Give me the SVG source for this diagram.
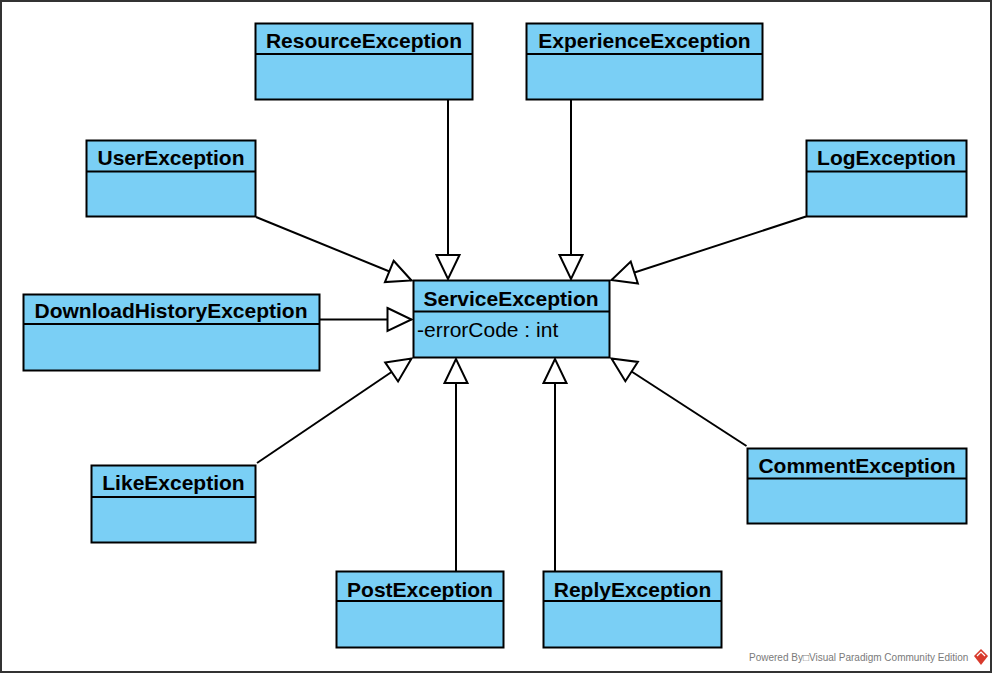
<svg xmlns="http://www.w3.org/2000/svg" width="993" height="674" viewBox="0 0 993 674">
<style>
.box{fill:#7acff5;stroke:#000;stroke-width:2}
.div{stroke:#000;stroke-width:2}
.t{font-family:"Liberation Sans",Arial,sans-serif;font-size:21px;font-weight:bold;fill:#000;text-anchor:middle}
.a{font-family:"Liberation Sans",Arial,sans-serif;font-size:21px;fill:#000}
.c{stroke:#000;stroke-width:2;fill:none;marker-end:url(#tri)}
.wm{font-family:"Liberation Sans",Arial,sans-serif;font-size:10px;fill:#7a7a7a}
</style>
<defs>
<marker id="tri" markerUnits="userSpaceOnUse" viewBox="-27 -14 29 28" refX="0" refY="0" markerWidth="29" markerHeight="28" orient="auto" overflow="visible">
<path d="M-24,-11.5 L0,0 L-24,11.5 Z" fill="#fff" stroke="#000" stroke-width="2" stroke-linejoin="miter"/>
</marker>
</defs>
<rect x="1" y="1" width="990" height="671" fill="#fff" stroke="#333" stroke-width="2"/>
<g id="connectors">
<line class="c" x1="448" y1="99.5" x2="448" y2="279"/>
<line class="c" x1="571" y1="99.5" x2="571" y2="279"/>
<line class="c" x1="256" y1="217" x2="411.5" y2="280.5"/>
<line class="c" x1="806" y1="216.5" x2="611.5" y2="280"/>
<line class="c" x1="320" y1="319.5" x2="411.5" y2="319.5"/>
<line class="c" x1="257" y1="463" x2="411.5" y2="358.5"/>
<line class="c" x1="746.5" y1="446" x2="611.5" y2="358.5"/>
<line class="c" x1="456" y1="571" x2="456" y2="359"/>
<line class="c" x1="555" y1="571" x2="555" y2="359"/>
</g>
<g id="ResourceException">
<rect class="box" x="255.5" y="23.5" width="217" height="76"/>
<line class="div" x1="255.5" y1="54" x2="472.5" y2="54"/>
<text class="t" x="364" y="48">ResourceException</text>
</g>
<g id="ExperienceException">
<rect class="box" x="526.5" y="23.5" width="236" height="76"/>
<line class="div" x1="526.5" y1="54" x2="762.5" y2="54"/>
<text class="t" x="644.5" y="48">ExperienceException</text>
</g>
<g id="UserException">
<rect class="box" x="86.5" y="140.5" width="169" height="76"/>
<line class="div" x1="86.5" y1="171.5" x2="255.5" y2="171.5"/>
<text class="t" x="171" y="165">UserException</text>
</g>
<g id="LogException">
<rect class="box" x="806.5" y="140.5" width="160" height="76"/>
<line class="div" x1="806.5" y1="171.5" x2="966.5" y2="171.5"/>
<text class="t" x="886.5" y="165">LogException</text>
</g>
<g id="DownloadHistoryException">
<rect class="box" x="23.5" y="294.5" width="296" height="76"/>
<line class="div" x1="23.5" y1="324" x2="319.5" y2="324"/>
<text class="t" x="171" y="318">DownloadHistoryException</text>
</g>
<g id="ServiceException">
<rect class="box" x="413.5" y="280.5" width="196" height="77"/>
<line class="div" x1="413.5" y1="311.5" x2="609.5" y2="311.5"/>
<text class="t" x="511" y="306">ServiceException</text>
<text class="a" x="417" y="337">-errorCode : int</text>
</g>
<g id="LikeException">
<rect class="box" x="91.5" y="465.5" width="164" height="77"/>
<line class="div" x1="91.5" y1="497" x2="255.5" y2="497"/>
<text class="t" x="173.5" y="489.5">LikeException</text>
</g>
<g id="CommentException">
<rect class="box" x="747.5" y="448.5" width="219" height="75"/>
<line class="div" x1="747.5" y1="478.5" x2="966.5" y2="478.5"/>
<text class="t" x="857" y="473">CommentException</text>
</g>
<g id="PostException">
<rect class="box" x="336.5" y="571.5" width="167" height="76"/>
<line class="div" x1="336.5" y1="601" x2="503.5" y2="601"/>
<text class="t" x="420" y="596.5">PostException</text>
</g>
<g id="ReplyException">
<rect class="box" x="543.5" y="571.5" width="178" height="76"/>
<line class="div" x1="543.5" y1="601" x2="721.5" y2="601"/>
<text class="t" x="632.5" y="596.5">ReplyException</text>
</g>
<g id="watermark">
<text class="wm" x="749" y="661">Powered By□Visual Paradigm Community Edition</text>
<path d="M981,649 L988,656 L981,665 L974,656 Z" fill="#d83a2c"/>
<path d="M977,656 L981,652 L985,656" fill="none" stroke="#fff" stroke-width="1.2"/>
</g>
</svg>
